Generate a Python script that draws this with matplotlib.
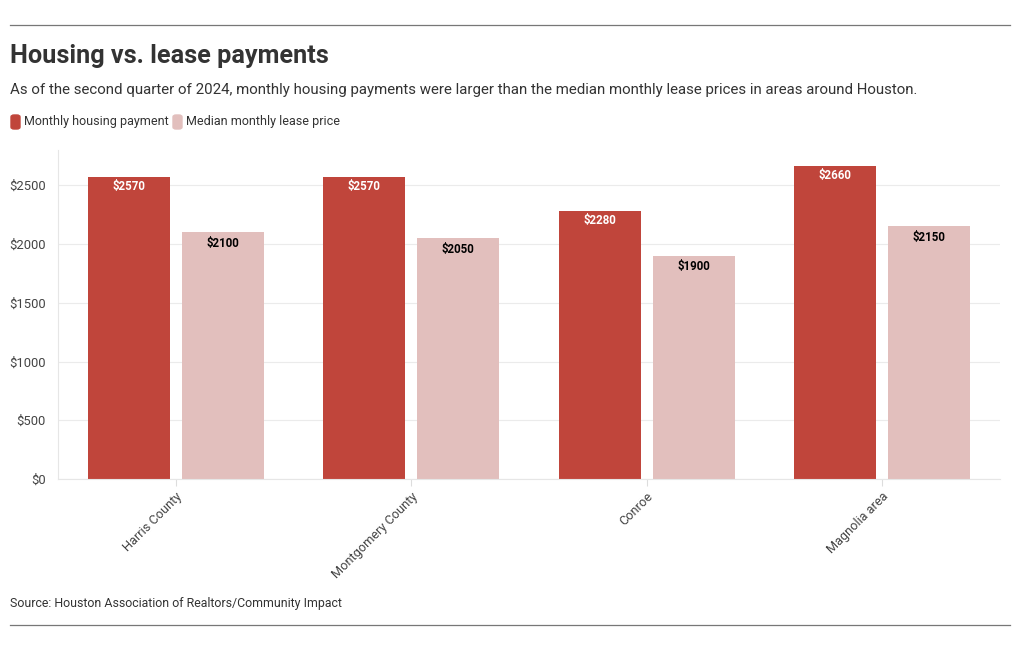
import matplotlib.pyplot as plt
from matplotlib.patches import FancyBboxPatch
from matplotlib.lines import Line2D
import numpy as np

categories = ['Harris County', 'Montgomery County', 'Conroe', 'Magnolia area']
housing = [2570, 2570, 2280, 2660]
lease = [2100, 2050, 1900, 2150]
yticks = [0, 500, 1000, 1500, 2000, 2500]

red = '#c0453b'
pink = '#e2bfbd'
plt.rcParams['font.family'] = ['Roboto', 'DejaVu Sans']

fig = plt.figure(figsize=(10.2, 6.5), dpi=100)
W, H = 1020, 650
ax = fig.add_axes([58 / W, 1 - 479 / H, 942 / W, 329 / H])

x = np.arange(len(categories))
bw = 0.348
b1 = ax.bar(x - 0.2, housing, bw, color=red)
b2 = ax.bar(x + 0.2, lease, bw, color=pink)

for rect, v in zip(b1, housing):
    ax.text(rect.get_x() + rect.get_width() / 2, v - 78, f'${v}', ha='center', va='center',
            color='white', fontsize=8.3, fontweight='bold')
for rect, v in zip(b2, lease):
    ax.text(rect.get_x() + rect.get_width() / 2, v - 95, f'${v}', ha='center', va='center',
            color='black', fontsize=8.3, fontweight='bold')

ax.set_xlim(-0.5, 3.5)
ax.set_ylim(0, 2800)
ax.set_yticks(yticks)
ax.set_yticklabels([f'${t}' for t in yticks], fontsize=9.4, color='#444444')
ax.set_xticks(x)
ax.set_xticklabels(categories, rotation=45, ha='right', rotation_mode='anchor', fontsize=9.2, color='#444444')
ax.tick_params(axis='y', length=0, pad=9)
ax.tick_params(axis='x', length=5, color='#dddddd', pad=3)
for lbl in ax.get_xticklabels():
    lbl.set_x(lbl.get_position()[0] + 0.03)
ax.grid(axis='y', color='#ebebeb', linewidth=0.8)
ax.set_axisbelow(True)
for s in ['top', 'right']:
    ax.spines[s].set_visible(False)
ax.spines['left'].set_color('#e6e6e6')
ax.spines['bottom'].set_color('#e6e6e6')

# header / footer
fig.add_artist(Line2D([10 / W, 1010 / W], [1 - 25 / H] * 2, color='#777777', lw=0.9))
fig.add_artist(Line2D([10 / W, 1010 / W], [1 - 625 / H] * 2, color='#777777', lw=0.9))
fig.text(10 / W, 1 - 56 / H, 'Housing vs. lease payments', fontsize=18.2, fontweight='bold',
         color='#333333', va='center')
fig.text(10 / W, 1 - 90 / H,
         'As of the second quarter of 2024, monthly housing payments were larger than the median monthly lease prices in areas around Houston.',
         fontsize=10.8, color='#333333', va='center')

# legend
for lx, col, lab in [(11, red, 'Monthly housing payment'), (173, pink, 'Median monthly lease price')]:
    fig.add_artist(FancyBboxPatch((lx / W, 1 - 129 / H), 9 / W, 14 / H,
                                  boxstyle='round,pad=0,rounding_size=0.003', color=col,
                                  transform=fig.transFigure))
    fig.text((lx + 13) / W, 1 - 122 / H, lab, fontsize=9, color='#333333', va='center')

fig.text(10 / W, 1 - 603 / H, 'Source: Houston Association of Realtors/Community Impact',
         fontsize=8.9, color='#333333', va='center')

fig.savefig('out.png', dpi=100, facecolor='white')
